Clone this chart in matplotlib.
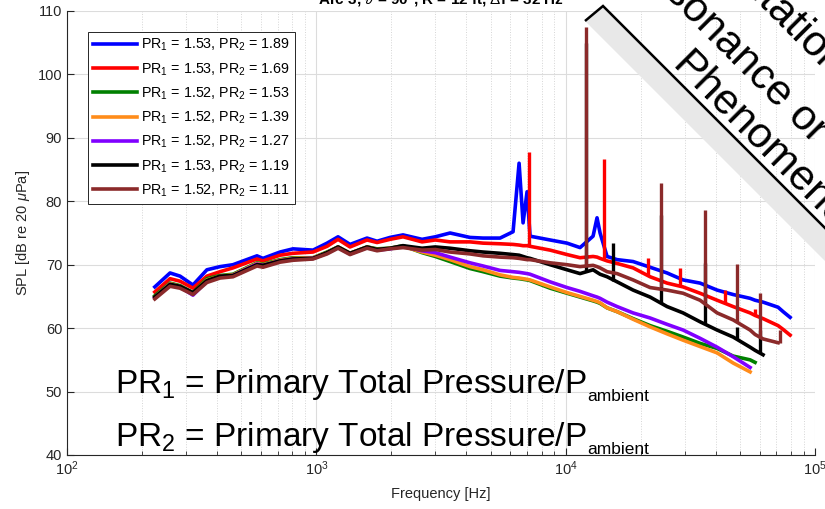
import numpy as np
import matplotlib
matplotlib.use("Agg")
import matplotlib.pyplot as plt
from matplotlib.patches import Polygon

plt.rcParams['font.family'] = ['Liberation Sans', 'DejaVu Sans']
plt.rcParams['mathtext.fontset'] = 'custom'
plt.rcParams['mathtext.rm'] = 'Liberation Sans'
plt.rcParams['mathtext.it'] = 'Liberation Sans:italic'
plt.rcParams['mathtext.bf'] = 'Liberation Sans:bold'

nan = np.nan

# frequency grid [Hz]
freq = [225, 259, 284, 320, 364, 411, 463, 578, 611, 715, 806, 970, 1104, 1222,
        1365, 1597, 1752, 1975, 2227, 2655, 3000, 3439, 4135, 4664, 5456, 6152,
        6504, 6748, 7001, 7198, 8660, 10130, 11420, 12880, 13360, 13740, 14660,
        16080, 18640, 21810, 25510, 29580, 34600, 40490, 46950, 54920, 57500,
        61900, 71100, 74500, 79450]

# SPL [dB], one list per PR2 setting
spl_189 = [66.5, 68.7, 68.2, 66.8, 69.2, 69.7, 70.0, 71.4, 71.0, 72.0, 72.5, 72.3, 73.4, 74.4,
           73.2, 74.2, 73.7, 74.3, 74.7, 74.0, 74.4, 75.0, 74.3, 74.2, 74.2, 75.2,
           86.0, 76.6, 81.5, 74.5, 73.9, 73.4, 72.7, 74.5, 77.4, 75.0, 71.3,
           70.8, 70.5, 69.6, 68.7, 67.6, 67.1, 66.0, 65.3, 64.7, 64.4,
           64.1, 63.3, 62.6, 61.7]
spl_169 = [65.7, 67.8, 67.4, 66.3, 68.2, 68.9, 69.5, 70.9, 70.6, 71.5, 71.8, 72.0, 72.9, 74.0,
           72.8, 73.9, 73.5, 74.0, 74.4, 73.6, 73.9, 73.6, 73.6, 73.4, 73.3, 73.2,
           73.1, 73.0, 73.0, 72.9, 72.3, 71.6, 71.1, 71.3, 71.2, 71.0, 70.6,
           70.2, 69.5, 68.1, 67.1, 66.5, 65.5, 64.4, 63.4, 62.4, 62.0,
           61.5, 60.4, 59.8, 58.9]
spl_153 = [65.1, 67.1, 66.7, 65.6, 67.8, 68.3, 68.5, 70.3, 70.1, 70.8, 71.1, 71.1, 72.0, 72.8,
           71.8, 72.8, 72.5, 72.6, 73.0, 71.9, 71.3, 70.5, 69.4, 68.9, 68.2, 67.9,
           67.8, 67.7, 67.6, 67.5, 66.3, 65.5, 64.9, 64.3, 64.1, 63.9, 63.2,
           62.6, 61.5, 60.4, 59.5, 58.6, 57.6, 56.8, 55.6, 55.0, 54.6,
           nan, nan, nan, nan]
spl_139 = [64.9, 67.0, 66.6, 65.5, 67.6, 68.2, 68.4, 70.2, 70.0, 70.7, 71.0, 71.1, 71.9, 72.8,
           71.8, 72.8, 72.4, 72.6, 72.9, 72.0, 71.5, 70.8, 69.7, 69.2, 68.4, 68.0,
           67.9, 67.8, 67.7, 67.6, 66.5, 65.6, 65.0, 64.4, 64.2, 64.0, 63.2,
           62.6, 61.4, 60.2, 59.1, 58.1, 57.1, 56.1, 54.5, 53.1, nan,
           nan, nan, nan, nan]
spl_127 = [64.8, 66.9, 66.5, 65.2, 67.4, 68.1, 68.3, 70.1, 69.9, 70.6, 70.9, 71.0, 71.8, 72.7,
           71.7, 72.7, 72.3, 72.5, 72.9, 72.2, 71.9, 71.2, 70.3, 69.8, 69.1, 68.9,
           68.8, 68.7, 68.6, 68.5, 67.3, 66.4, 65.8, 65.1, 64.9, 64.7, 64.1,
           63.4, 62.4, 61.6, 60.6, 59.7, 58.4, 57.0, 55.5, 53.8, nan,
           nan, nan, nan, nan]
spl_119 = [64.9, 66.9, 66.6, 65.6, 67.5, 68.2, 68.3, 70.0, 69.9, 70.6, 70.9, 71.0, 71.9, 72.8,
           71.8, 72.8, 72.4, 72.6, 73.0, 72.6, 72.8, 72.6, 72.2, 72.0, 71.8, 71.6,
           71.5, 71.3, 71.1, 71.0, 70.0, 69.2, 68.6, 69.2, 68.8, 68.5, 68.1,
           67.3, 66.0, 64.9, 63.4, 62.4, 61.0, 59.7, 58.6, 57.0, 56.5,
           55.8, nan, nan, nan]
spl_111 = [64.6, 66.6, 66.3, 65.3, 67.2, 67.9, 68.1, 69.8, 69.6, 70.4, 70.7, 70.9, 71.7, 72.6,
           71.6, 72.6, 72.2, 72.5, 72.7, 72.3, 72.4, 72.0, 71.7, 71.4, 71.2, 71.1,
           71.0, 70.9, 70.8, 70.8, 70.3, 70.0, 69.7, 69.9, 69.7, 69.5, 68.9,
           68.6, 67.6, 66.4, 66.0, 65.5, 64.4, 62.4, 61.3, 59.7, 59.0,
           58.3, 57.7, nan, nan]

# tonal spikes: (frequency, base SPL, peak SPL)
spk_169 = [(7131, 73.0, 87.8), (14260, 70.8, 86.7), (21410, 68.3, 71.0), (28770, 66.6, 69.5),
           (43590, 64.0, 66.0), (57520, 62.0, 63.0)]
spk_119 = [(12070, 68.8, 105.0), (15500, 67.5, 73.4), (24140, 64.0, 77.9), (36240, 60.8, 70.3),
           (48710, 58.3, 60.2), (60230, 56.3, 59.7)]
spk_111 = [(12070, 70.0, 107.5), (24140, 66.5, 82.9), (36240, 64.2, 78.6), (48710, 61.0, 70.1),
           (60230, 58.5, 65.5), (72500, 57.7, 59.7)]

series = [spl_189, spl_169, spl_153, spl_139, spl_127, spl_119, spl_111]
spikes = [[], spk_169, [], [], [], spk_119, spk_111]
labels = [r'PR$_\mathrm{1}$ = 1.53, PR$_\mathrm{2}$ = 1.89',
          r'PR$_\mathrm{1}$ = 1.53, PR$_\mathrm{2}$ = 1.69',
          r'PR$_\mathrm{1}$ = 1.52, PR$_\mathrm{2}$ = 1.53',
          r'PR$_\mathrm{1}$ = 1.52, PR$_\mathrm{2}$ = 1.39',
          r'PR$_\mathrm{1}$ = 1.52, PR$_\mathrm{2}$ = 1.27',
          r'PR$_\mathrm{1}$ = 1.53, PR$_\mathrm{2}$ = 1.19',
          r'PR$_\mathrm{1}$ = 1.52, PR$_\mathrm{2}$ = 1.11']
colors = ['#0000ff', '#ff0000', '#008000', '#ff8c1a', '#8000ff', '#000000', '#8b2a2a']

fig = plt.figure(figsize=(8.25, 5.09), dpi=100)
ax = fig.add_axes([67/825, 1-455/509, 748/825, 444/509])

for y, spk, lab, c in zip(series, spikes, labels, colors):
    ax.plot(freq, y, color=c, lw=2.6, label=lab)
    for f, lo, hi in spk:
        ax.vlines(f, lo, hi, colors=c, lw=2.4)

ax.set_xscale('log')
ax.set_xlim(100, 1e5)
ax.set_ylim(40, 110)
ax.set_yticks(range(40, 111, 10))
ax.grid(which='major', color='#dcdcdc', lw=0.8)
ax.grid(which='minor', axis='x', color='#d5d5d5', lw=0.7, ls=':')
ax.set_axisbelow(True)
for s in ['top', 'right']:
    ax.spines[s].set_visible(False)
for s in ['left', 'bottom']:
    ax.spines[s].set_color('#262626')
    ax.spines[s].set_linewidth(0.8)
ax.tick_params(which='both', direction='in', colors='#262626', labelsize=10.5)
ax.tick_params(which='major', length=5)
ax.tick_params(which='minor', length=3)
ax.set_xlabel('Frequency [Hz]', fontsize=10.5, color='#262626', labelpad=6)
ax.set_ylabel(r'SPL [dB re 20 $\mu$Pa]', fontsize=10.5, color='#262626', labelpad=4)

leg = ax.legend(loc='upper left', bbox_to_anchor=(0.028, 0.953), fontsize=10.3,
                fancybox=False, edgecolor='#262626', framealpha=1,
                handlelength=3.1, handletextpad=0.25, labelspacing=0.55,
                borderpad=0.35, borderaxespad=0)
leg.get_frame().set_linewidth(0.7)

# pressure ratio definitions, with a small "ambient" subscript
for yy, k in [(0.14, '1'), (0.02, '2')]:
    t = ax.text(0.064, yy, r'PR$_\mathrm{%s}$ = Primary Total Pressure/P' % k,
                transform=ax.transAxes, fontsize=24, va='baseline')
    ax.annotate('ambient', xy=(1, 0), xycoords=t, xytext=(0.5, 0.5),
                textcoords='offset points', fontsize=12.5, va='baseline')

# title, mostly cut off by the top edge
fig.text(0.535, 1 - 4/509, r'Arc 3, $\vartheta$ = 90$^{\circ}$, R = 12 ft, $\Delta$f = 32 Hz',
         ha='center', va='baseline', fontsize=11, fontweight='bold')


def px(x, y):
    return (x/825, 1 - y/509)


band = Polygon([px(585, 21), px(603, 6), px(863, 266), px(845, 281)], closed=True,
               transform=fig.transFigure, facecolor='#e8e8e8', edgecolor='none', zorder=5)
fig.patches.append(band)
edge = Polygon([px(585, 21), px(603, 6), px(863, 266)], closed=False,
               transform=fig.transFigure, facecolor='none', edgecolor='black', lw=1.8, zorder=6)
fig.patches.append(edge)

fig.text(*px(670, 67), 'Phenomenon', rotation=-45, rotation_mode='anchor',
         ha='left', va='baseline', fontsize=31, zorder=7)
fig.text(*px(813, 144), 'Resonance or', rotation=-45, rotation_mode='anchor',
         ha='right', va='baseline', fontsize=31, zorder=7)
fig.text(*px(830, 80), 'Excitation', rotation=-45, rotation_mode='anchor',
         ha='right', va='baseline', fontsize=31, zorder=7)

fig.savefig('out.png', dpi=100)
